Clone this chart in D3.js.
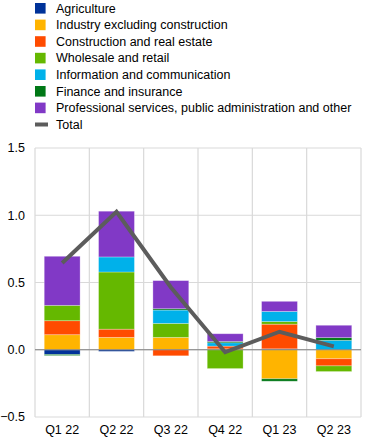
<!DOCTYPE html>
<html>
<head>
<meta charset="utf-8">
<script src="https://cdn.jsdelivr.net/npm/d3@7"></script>
<style>
  body { margin: 0; background: #fff; }
  text { font-family: Arial, "Liberation Sans", sans-serif; }
</style>
</head>
<body>
<div class="canvas"></div>
<script>
const WIDTH = 372;
const HEIGHT = 445;

// data (percentage points)
const quarters = ['Q1 22', 'Q2 22', 'Q3 22', 'Q4 22', 'Q1 23', 'Q2 23'];
const agriculture = [-0.035, -0.012, 0, 0, 0.007, 0];
const industry = [0.112, 0.092, 0.092, 0.007, -0.216, -0.067];
const construction = [0.104, 0.061, -0.045, 0.02, 0.183, -0.053];
const wholesale = [0.114, 0.425, 0.104, -0.14, 0.02, -0.042];
const information = [0, 0.112, 0.099, 0.025, 0.075, 0.07];
const finance = [-0.008, 0, 0.01, 0.01, -0.018, 0.02];
const professional = [0.365, 0.34, 0.209, 0.057, 0.075, 0.092];
const total = [0.645, 1.025, 0.465, -0.018, 0.134, 0.025];
const yTicks = [-0.5, 0, 0.5, 1.0, 1.5];

const seriesNames = [
  'Agriculture',
  'Industry excluding construction',
  'Construction and real estate',
  'Wholesale and retail',
  'Information and communication',
  'Finance and insurance',
  'Professional services, public administration and other'
];
const seriesValues = [agriculture, industry, construction, wholesale, information, finance, professional];

// colors
const colors = ['#003299', '#ffb400', '#ff4b00', '#65b800', '#00b1ea', '#007816', '#8139c6'];
const totalColor = '#5c5c5c';
const gridColor = '#d9d9d9';
const fontSize = 12.5;

const margin = { top: 148, right: 11, bottom: 28, left: 35 };
const graphWidth = WIDTH - margin.left - margin.right;
const graphHeight = HEIGHT - margin.top - margin.bottom;

const svg = d3.select('.canvas')
  .append('svg')
    .attr('width', WIDTH)
    .attr('height', HEIGHT);

const graph = svg.append('g')
  .attr('transform', `translate(${margin.left}, ${margin.top})`);

// scales
const x = d3.scaleBand()
  .domain(quarters)
  .range([0, graphWidth])
  .paddingInner(0.34)
  .paddingOuter(0.17);

const y = d3.scaleLinear()
  .domain([-0.5, 1.5])
  .range([graphHeight, 0]);

// grid
const grid = graph.append('g');
const step = x.step();
const vLines = d3.range(quarters.length + 1).map(i => i * step);
grid.selectAll('line.v')
  .data(vLines)
  .enter().append('line')
    .attr('class', 'v')
    .attr('x1', d => d).attr('x2', d => d)
    .attr('y1', 0).attr('y2', graphHeight)
    .attr('stroke', gridColor)
    .attr('stroke-width', 1.2);

grid.selectAll('line.h')
  .data(yTicks)
  .enter().append('line')
    .attr('class', 'h')
    .attr('x1', 0).attr('x2', graphWidth)
    .attr('y1', d => y(d)).attr('y2', d => y(d))
    .attr('stroke', gridColor)
    .attr('stroke-width', 1.2);

// stacked bars
const rows = quarters.map((q, i) => {
  const row = { quarter: q };
  seriesNames.forEach((name, j) => { row[name] = seriesValues[j][i]; });
  return row;
});

const stack = d3.stack()
  .keys(seriesNames)
  .offset(d3.stackOffsetDiverging);

const layers = stack(rows);

graph.selectAll('g.layer')
  .data(layers)
  .enter().append('g')
    .attr('class', 'layer')
    .attr('fill', (d, i) => colors[i])
  .selectAll('rect')
  .data(d => d)
  .enter().append('rect')
    .attr('x', d => x(d.data.quarter))
    .attr('width', x.bandwidth())
    .attr('y', d => y(d[1]))
    .attr('height', d => Math.abs(y(d[0]) - y(d[1])))
    .attr('stroke', 'rgba(255,255,255,0.35)')
    .attr('stroke-width', 0.8);

// zero line
graph.append('line')
  .attr('x1', 0).attr('x2', graphWidth)
  .attr('y1', y(0)).attr('y2', y(0))
  .attr('stroke', '#7f7f7f')
  .attr('stroke-width', 1.2);

// total line
const line = d3.line()
  .x((d, i) => x(quarters[i]) + x.bandwidth() / 2)
  .y(d => y(d));

graph.append('path')
  .datum(total)
  .attr('fill', 'none')
  .attr('stroke', totalColor)
  .attr('stroke-width', 4)
  .attr('d', line);

// y axis labels
graph.selectAll('text.ytick')
  .data(yTicks)
  .enter().append('text')
    .attr('class', 'ytick')
    .attr('x', -10)
    .attr('y', d => y(d))
    .attr('dy', '0.35em')
    .attr('text-anchor', 'end')
    .attr('font-size', fontSize)
    .attr('fill', '#000')
    .text(d => d3.format('.1f')(d));

// x axis labels
graph.selectAll('text.xtick')
  .data(quarters)
  .enter().append('text')
    .attr('class', 'xtick')
    .attr('x', d => x(d) + x.bandwidth() / 2)
    .attr('y', graphHeight + 17)
    .attr('text-anchor', 'middle')
    .attr('font-size', fontSize)
    .attr('fill', '#000')
    .text(d => d);

// legend
const legend = svg.append('g')
  .attr('transform', 'translate(35, 0)');

const legendItems = seriesNames.concat(['Total']);
const rowH = 16.6;

const items = legend.selectAll('g.item')
  .data(legendItems)
  .enter().append('g')
    .attr('class', 'item')
    .attr('transform', (d, i) => `translate(0, ${8.3 + i * rowH})`);

items.each(function(d, i) {
  const g = d3.select(this);
  if (d === 'Total') {
    g.append('rect')
      .attr('x', 0).attr('y', -2)
      .attr('width', 13).attr('height', 4)
      .attr('fill', totalColor);
  } else {
    g.append('rect')
      .attr('x', 0).attr('y', -5.3)
      .attr('width', 10.6).attr('height', 10.6)
      .attr('fill', colors[i]);
  }
  g.append('text')
    .attr('x', 21)
    .attr('dy', '0.35em')
    .attr('font-size', fontSize)
    .attr('fill', '#000')
    .text(d);
});
</script>
</body>
</html>
